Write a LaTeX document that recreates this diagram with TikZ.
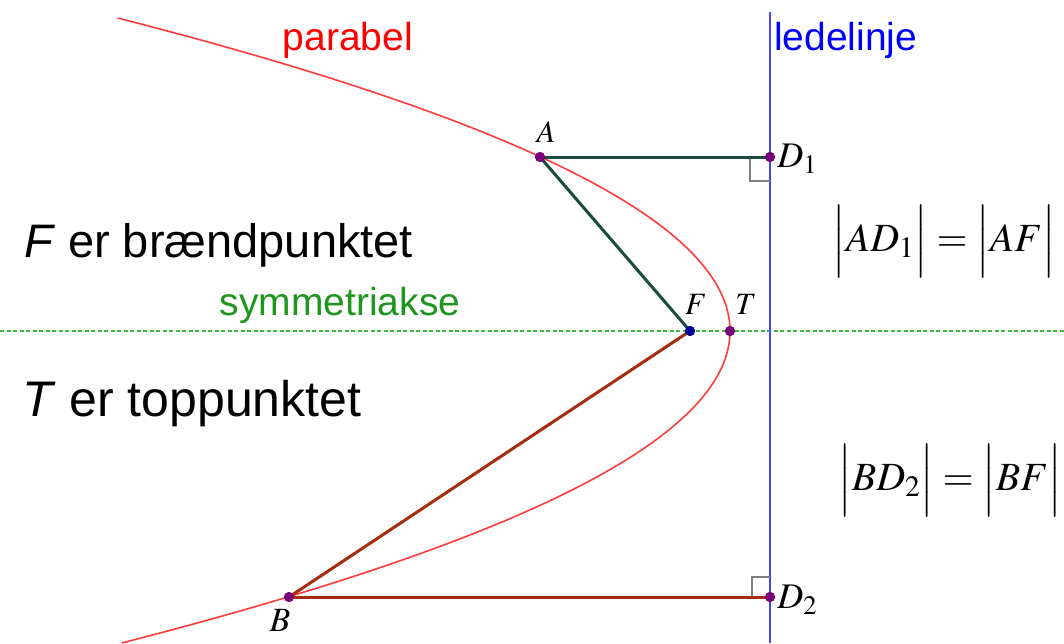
\documentclass[tikz,border=0pt]{standalone}
\usepackage{amsmath}
\usepackage{mathptmx}
\usepackage[no-math]{fontspec}
\setmainfont{Liberation Sans}
\usepackage{tikz}
\usetikzlibrary{calc}
\definecolor{parared}{RGB}{255,60,60}
\definecolor{leblue}{RGB}{70,70,255}
\definecolor{axgreen}{RGB}{30,150,30}
\definecolor{dashgreen}{RGB}{60,190,60}
\definecolor{segteal}{RGB}{25,75,65}
\definecolor{segbrown}{RGB}{165,45,15}
\definecolor{ptpurple}{RGB}{120,0,120}
\tikzset{
  parabola/.style={draw=parared, line width=1.6pt},
  directrix/.style={draw=leblue, line width=1.4pt},
  axisline/.style={draw=dashgreen, line width=1.5pt, dash pattern=on 4pt off 2.5pt},
  segtop/.style={draw=segteal, line width=3pt},
  segbot/.style={draw=segbrown, line width=3pt},
  rightangle/.style={draw=gray, line width=1.4pt},
  dot/.style={circle, fill=ptpurple, minimum size=10pt, inner sep=0pt},
  ptlabel/.style={font=\fontsize{31}{34}\selectfont, inner sep=1pt},
  blabel/.style={font=\fontsize{34}{38}\selectfont, inner sep=1pt},
  dlabel/.style={font=\fontsize{36}{40}\selectfont, inner sep=1pt},
  bigtext/.style={font=\fontsize{47}{52}\selectfont, anchor=west, inner sep=0pt},
  captext/.style={font=\fontsize{39}{44}\selectfont, inner sep=0pt},
  eqtext/.style={font=\fontsize{40}{46}\selectfont, inner sep=0pt}
}
\begin{document}
\begin{tikzpicture}[x=1pt, y=-1pt]
\useasboundingbox (0,0) rectangle (1064,643);
\draw[axisline] (0,331) -- (1064,331);
\draw[directrix] (770,12) -- (770,643);
\draw[parabola] plot[domain=18:643, samples=120, smooth] ({730-((\x-331)/12.649)^2}, {\x});
\node[dot] (A) at (540,157) {};
\node[dot] (D1) at (770,157) {};
\node[dot, fill=blue!60!black] (F) at (690,331) {};
\node[dot] (T) at (730,331) {};
\node[dot] (B) at (289,597) {};
\node[dot] (D2) at (770,597) {};
\draw[rightangle] ($(D1.center)+(-20,0)$) |- ($(D1.center)+(0,24)$);
\draw[rightangle] ($(D2.center)+(-18,0)$) |- ($(D2.center)+(0,-20)$);
\draw[segtop] (A.center) -- (D1.center);
\draw[segtop] (A.center) -- (F.center);
\draw[segbot] (B.center) -- (D2.center);
\draw[segbot] (B.center) -- (F.center);
\node[dot] at (A) {};
\node[dot] at (D1) {};
\node[dot, fill=blue!60!black] at (F) {};
\node[dot] at (T) {};
\node[dot] at (B) {};
\node[dot] at (D2) {};
\node[ptlabel] (Alab) at (546,132) {$A$};
\node[dlabel, anchor=west] (D1lab) at ($(D1.east)+(1,2)$) {$D_1$};
\node[ptlabel] (Flab) at (696,304) {$F$};
\node[ptlabel] (Tlab) at (746,304) {$T$};
\node[blabel] (Blab) at (280,620) {$B$};
\node[dlabel, anchor=west] (D2lab) at ($(D2.east)+(1,3)$) {$D_2$};
\node[captext, text=red] (parlab) at (348,40) {parabel};
\node[captext, text=blue, anchor=west] (ledlab) at (774,40) {ledelinje};
\node[bigtext] (fokus) at (24,245) {\textit{F} er brændpunktet};
\node[captext, text=axgreen] (symlab) at (340,305) {symmetriakse};
\node[bigtext, font=\fontsize{50}{55}\selectfont] (topp) at (22,404) {\textit{T} er toppunktet};
\node[eqtext] (eq1) at (944,241) {$\Bigl|AD_1\Bigr|=\Bigl|AF\Bigr|$};
\node[eqtext] (eq2) at (950,480) {$\Bigl|BD_2\Bigr|=\Bigl|BF\Bigr|$};
\end{tikzpicture}
\end{document}
